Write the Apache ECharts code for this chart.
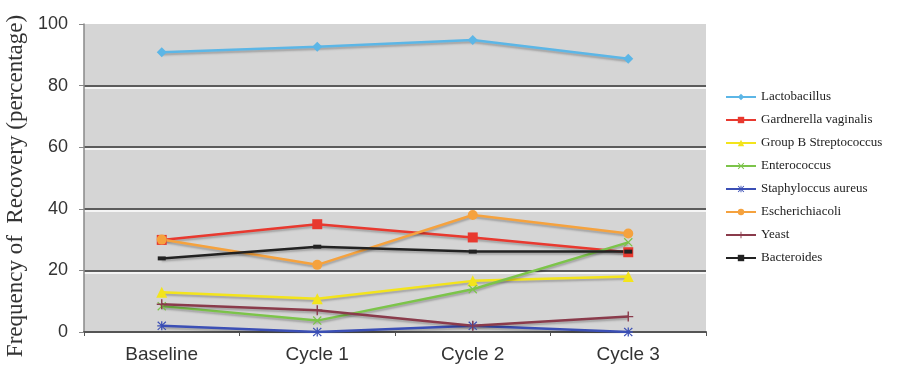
<!DOCTYPE html>
<html>
<head>
<meta charset="utf-8">
<script src="https://cdn.jsdelivr.net/npm/echarts@6/dist/echarts.min.js"></script>
<style>html,body{margin:0;padding:0;background:#fff}#c{width:905px;height:368px}</style>
</head>
<body>
<div id="c"></div>
<script>
const categories = ['Baseline', 'Cycle 1', 'Cycle 2', 'Cycle 3'];
const seriesNames = ['Lactobacillus', 'Gardnerella vaginalis', 'Group B Streptococcus', 'Enterococcus', 'Staphyloccus aureus', 'Escherichiacoli', 'Yeast', 'Bacteroides'];
const lactobacillus = [90.8, 92.6, 94.8, 88.7];
const gardnerella = [29.9, 35.0, 30.7, 25.9];
const groupB = [12.9, 10.8, 16.6, 18.0];
const enterococcus = [8.4, 3.7, 13.9, 29.1];
const staph = [2.0, 0, 2.0, 0];
const ecoli = [30.0, 21.8, 38.0, 32.0];
const yeast = [9.0, 7.1, 2.0, 5.0];
const bacteroides = [23.9, 27.7, 26.1, 26.1];
const yTicks = [0, 20, 40, 60, 80, 100];

const values = [lactobacillus, gardnerella, groupB, enterococcus, staph, ecoli, yeast, bacteroides];
const colors = ['#5cb6e6', '#e8392f', '#f3e41c', '#7cc44a', '#3b4fb5', '#f5a23e', '#8a3b4b', '#222222'];
const symbols = [
  'diamond', 'rect', 'triangle',
  'path://M0,1 L1,0 L5,4 L9,0 L10,1 L6,5 L10,9 L9,10 L5,6 L1,10 L0,9 L4,5 Z',
  'path://M0,1 L1,0 L4.3,3.3 L4.3,0 L5.7,0 L5.7,3.3 L9,0 L10,1 L6.2,4.3 L10,4.3 L10,5.7 L6.2,5.7 L10,9 L9,10 L5.7,6.7 L5.7,10 L4.3,10 L4.3,6.7 L1,10 L0,9 L3.8,5.7 L0,5.7 L0,4.3 L3.8,4.3 Z',
  'circle',
  'path://M4.3,0 L5.7,0 L5.7,4.3 L10,4.3 L10,5.7 L5.7,5.7 L5.7,10 L4.3,10 L4.3,5.7 L0,5.7 L0,4.3 L4.3,4.3 Z',
  'rect'
];
const sizes = [10, 10, 11, 9, 9, 10, 10, [8, 4]];

const chart = echarts.init(document.getElementById('c'));
chart.setOption({
  backgroundColor: '#fff',
  animation: false,
  grid: { left: 84, top: 24, right: 199, bottom: 36, show: true, backgroundColor: '#d5d5d5', borderWidth: 0, outerBoundsMode: 'none', containLabel: false },
  legend: {
    orient: 'vertical', left: 720, top: 85, itemGap: 9, itemWidth: 30, itemHeight: 8,
    data: seriesNames,
    textStyle: { fontFamily: 'Liberation Serif', fontSize: 13, color: '#222', lineHeight: 14 }
  },
  xAxis: {
    type: 'category', data: categories, boundaryGap: true,
    axisLine: { lineStyle: { color: '#555', width: 2 } },
    axisTick: { show: true, length: 4, lineStyle: { color: '#555' } },
    axisLabel: { fontFamily: 'Liberation Sans', fontSize: 19, color: '#333', margin: 13 }
  },
  yAxis: {
    type: 'value', min: 0, max: 100, interval: 20,
    name: 'Frequency of  Recovery (percentage)', nameLocation: 'middle', nameGap: 42,
    nameTextStyle: { fontFamily: 'Liberation Serif', fontSize: 23, color: '#333', padding: [0, 16, 0, 0] },
    axisLine: { show: true, lineStyle: { color: '#888', width: 1.5 } },
    axisTick: { show: true, length: 5, lineStyle: { color: '#888' } },
    axisLabel: { fontFamily: 'Liberation Sans', fontSize: 18, color: '#333', margin: 16,
      formatter: v => yTicks.includes(v) ? String(v) : '' },
    splitLine: { show: true, lineStyle: { color: ['#333', '#333', '#333', '#333', '#333', 'rgba(0,0,0,0)'], width: 1.5, shadowColor: '#ffffff', shadowOffsetY: 2, shadowBlur: 0 } }
  },
  series: seriesNames.map((n, i) => ({
    name: n, type: 'line', data: values[i],
    symbol: symbols[i], symbolSize: sizes[i],
    itemStyle: { color: colors[i] },
    lineStyle: { color: colors[i], width: 2.5, shadowColor: 'rgba(0,0,0,0.25)', shadowBlur: 2, shadowOffsetY: 2 }
  }))
});
</script>
</body>
</html>
